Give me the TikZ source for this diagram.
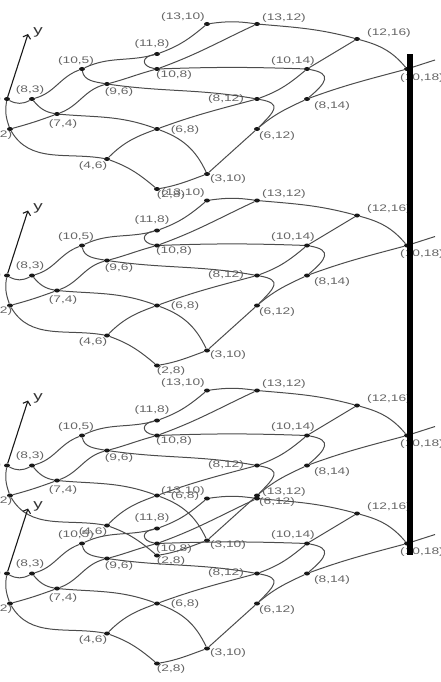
\documentclass[tikz,border=0pt]{standalone}
\usepackage{fontspec}
\setmainfont[FakeStretch=1.45]{Liberation Sans}
\usetikzlibrary{shapes.geometric,arrows.meta}
\tikzset{
  pt/.style={ellipse,fill=black!90,inner sep=0pt,minimum width=6pt,minimum height=4pt},
  lab/.style={text=black!60,inner sep=0pt,font=\fontsize{9.5}{10}\selectfont},
  edge/.style={draw=black!70,line width=1pt}
}
\begin{document}
\begin{tikzpicture}[x=1pt,y=1pt]
    \useasboundingbox (0,0) rectangle (440,-682);
    \foreach \dy in {0,176.5,366.5,474.5} {
        \begin{scope}[yshift=-\dy pt]
            \node[pt] (n82) at (7,-99) {};       \node[lab] (l82) at (-13,-99) {(8,2)};
            \node[pt] (n62) at (10,-129) {};     \node[lab] (l62) at (-2,-135) {(6,2)};
            \node[pt] (n83) at (32,-99) {};      \node[lab] (l83) at (30,-90) {(8,3)};
            \node[pt] (n74) at (57,-114) {};     \node[lab] (l74) at (63,-124) {(7,4)};
            \node[pt] (n105) at (82,-69) {};     \node[lab] (l105) at (76,-61) {(10,5)};
            \node[pt] (n96) at (107,-84) {};     \node[lab] (l96) at (119,-92) {(9,6)};
            \node[pt] (n46) at (107,-159) {};    \node[lab] (l46) at (93,-166) {(4,6)};
            \node[pt] (n118) at (157,-54) {};    \node[lab] (l118) at (152,-44) {(11,8)};
            \node[pt] (n108) at (157,-69) {};    \node[lab] (l108) at (174,-75) {(10,8)};
            \node[pt] (n68) at (157,-129) {};    \node[lab] (l68) at (185,-130) {(6,8)};
            \node[pt] (n28) at (157,-189) {};    \node[lab] (l28) at (171,-195) {(2,8)};
            \node[pt] (n1310) at (207,-24) {};   \node[lab] (l1310) at (183,-17) {(13,10)};
            \node[pt] (n310) at (207,-174) {};   \node[lab] (l310) at (228,-179) {(3,10)};
            \node[pt] (n1312) at (257,-24) {};   \node[lab] (l1312) at (284,-18) {(13,12)};
            \node[pt] (n812) at (257,-99) {};    \node[lab] (l812) at (226,-99) {(8,12)};
            \node[pt] (n612) at (257,-129) {};   \node[lab] (l612) at (277,-136) {(6,12)};
            \node[pt] (n1014) at (307,-69) {};   \node[lab] (l1014) at (293,-61) {(10,14)};
            \node[pt] (n814) at (307,-99) {};    \node[lab] (l814) at (332,-106) {(8,14)};
            \node[pt] (n1216) at (357,-39) {};   \node[lab] (l1216) at (389,-33) {(12,16)};
            \node[pt] (n1018) at (407,-69) {};   \node[lab] (l1018) at (422,-78) {(10,18)};
            \coordinate (yend) at (28,-34);
            \coordinate (xend) at (435,-60);
            \node[font=\fontsize{13}{13}\selectfont,text=black!80,inner sep=0pt] (ylab) at (38,-32) {y};
            % top chain
            \draw[edge] (n83) to[out=15,in=-160] (n105) to[out=25,in=-165] (n118) to[out=20,in=-140] (n1310)
                to[out=8,in=172] (n1312) to[out=-5,in=165] (n1216) to[out=-15,in=130] (n1018);
            \draw[edge] (n82) to[out=-30,in=210] (n83);
            \draw[edge] (n82) to[out=-100,in=110] (n62);
            % second chain
            \draw[edge] (n62) to[out=15,in=-160] (n74) to[out=20,in=-165] (n96) to[out=15,in=-165] (n108)
                to[out=20,in=-155] (n1312);
            \draw[edge] (n83) to[out=-50,in=170] (n74) to[out=-5,in=160] (n68) to[out=-20,in=115] (n310);
            \draw[edge] (n105) to[out=-80,in=170] (n96) to[out=-8,in=170] (n812);
            \draw[edge] (n108) to[out=2,in=178] (n1014);
            % loops
            \draw[edge] (n118) to[out=190,in=170,looseness=2.4] (n108);
            \draw[edge] (n812) to[out=-10,in=45,looseness=2.1] (n612);
            \draw[edge] (n1014) to[out=-10,in=40,looseness=2.1] (n814);
            % lower chains
            \draw[edge] (n62) to[out=-60,in=170] (n46) to[out=-20,in=140] (n28) to[out=10,in=-160] (n310)
                -- (n612) to[out=40,in=-155] (n814) to[out=20,in=-165] (n1018) -- (xend);
            \draw[edge] (n46) to[out=45,in=-160] (n68) to[out=20,in=-165] (n812) to[out=20,in=-140] (n1014) -- (n1216);
            % axis
            \draw[black!90,line width=1.1pt,-{Straight Barb[length=3.5pt,width=8pt]}] (n82) -- (yend);
        \end{scope}
    }
    \fill[black] (407,-54) rectangle (413,-555);
\end{tikzpicture}
\end{document}
